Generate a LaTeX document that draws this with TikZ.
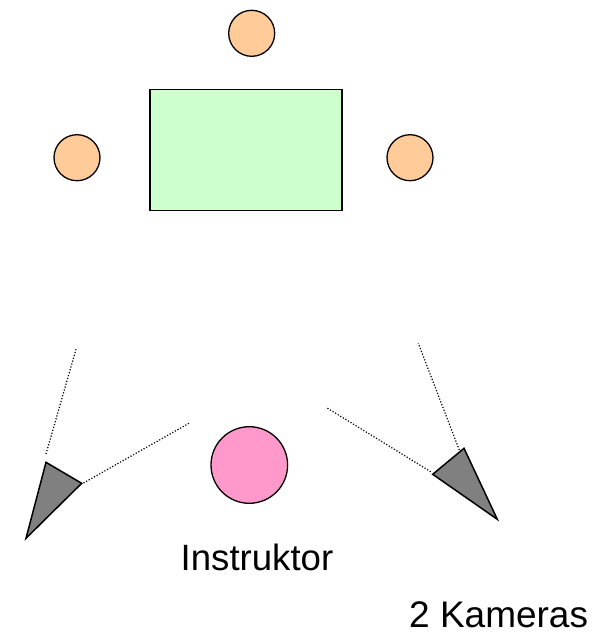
\documentclass[tikz,border=0pt]{standalone}
\usepackage{fontspec}
\setmainfont{Liberation Sans}
\definecolor{seat}{HTML}{FFCC99}
\definecolor{tablec}{HTML}{CCFFCC}
\definecolor{instr}{HTML}{FF99CC}
\definecolor{camc}{HTML}{808080}
\begin{document}
\begin{tikzpicture}[x=1pt,y=-1pt,
  seatnode/.style={circle,draw=black,line width=1.3pt,fill=seat,minimum size=46pt,inner sep=0pt},
  camshape/.style={draw=black,line width=1.5pt,fill=camc,line join=miter},
  view/.style={line width=1.2pt,dash pattern=on 1.2pt off 1.8pt},
  lbl/.style={inner sep=0pt,anchor=base west}]
\useasboundingbox (0,0) rectangle (597,633);
% table and seats
\node[draw=black,line width=1.3pt,fill=tablec,minimum width=192pt,minimum height=121.5pt,inner sep=0pt] (table) at (246,150) {};
\node[seatnode] (s1) at (251.7,33.3) {};
\node[seatnode] (s2) at (77,157.7) {};
\node[seatnode] (s3) at (410,157.7) {};
% instructor
\node[circle,draw=black,line width=1.3pt,fill=instr,minimum size=76.6pt,inner sep=0pt] (ins) at (249.3,465) {};
\node[lbl,font=\fontsize{36.6}{40}\selectfont] (inslbl) at (180.5,570) {Instruktor};
\node[lbl,font=\fontsize{37}{41}\selectfont] (camlbl) at (409,627) {2 Kameras};
% left camera
\coordinate (la) at (46,462.3);
\coordinate (lb) at (81.7,483.3);
\coordinate (lc) at (26,538.3);
\coordinate (la1) at (46,454);
\coordinate (la2) at (76,349.3);
\coordinate (lb1) at (83.5,483);
\coordinate (lb2) at (190,422.7);
\draw[camshape] (la) -- (lb) -- (lc) -- cycle;
\draw[view] (la1) -- (la2);
\draw[view] (lb1) -- (lb2);
% right camera
\coordinate (ra) at (464,448.3);
\coordinate (rb) at (432.7,474.3);
\coordinate (rc) at (497.3,519.3);
\coordinate (ra1) at (459.3,450);
\coordinate (ra2) at (418.3,343.3);
\coordinate (rb1) at (430.7,471.7);
\coordinate (rb2) at (326,407.3);
\draw[camshape] (ra) -- (rb) -- (rc) -- cycle;
\draw[view] (ra1) -- (ra2);
\draw[view] (rb1) -- (rb2);
\end{tikzpicture}
\end{document}
